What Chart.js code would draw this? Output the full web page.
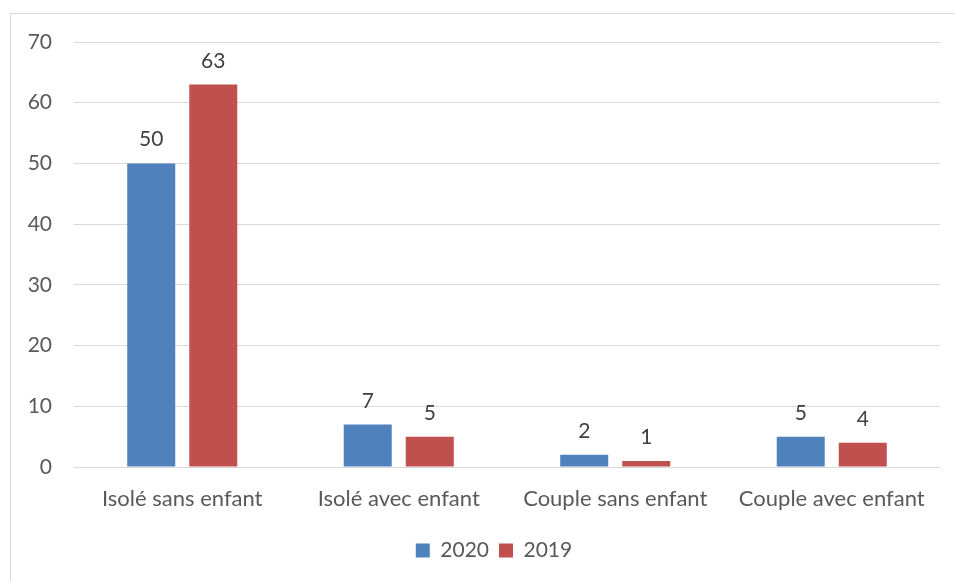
<!DOCTYPE html>
<html><head><meta charset="utf-8">
<script src="https://cdn.jsdelivr.net/npm/chart.js@4"></script>
<style>
html,body{margin:0;padding:0;background:#fff;overflow:hidden;width:955px;height:581px;}
#frame{position:absolute;left:10px;top:13px;width:1000px;height:700px;border:1px solid #d9d9d9;box-sizing:border-box;}
#wrap{position:absolute;left:0;top:0;width:955px;height:581px;}
</style></head>
<body>
<div id="frame"></div>
<div id="wrap"><canvas id="c" width="955" height="581"></canvas></div>
<script>
const categories = ["Isolé sans enfant", "Isolé avec enfant", "Couple sans enfant", "Couple avec enfant"];
const values2020 = [50, 7, 2, 5];
const values2019 = [63, 5, 1, 4];
const seriesNames = ["2020", "2019"];
const yTicks = [0, 10, 20, 30, 40, 50, 60, 70];

const FONT = "Lato, 'Open Sans', sans-serif";

const labelPlugin = {
  id: 'barLabels',
  afterLayout(chart) {
    const lg = chart.legend;
    if (lg) { lg.left += 24; lg.right += 24; }
  },
  afterDatasetsDraw(chart) {
    const ctx = chart.ctx;
    ctx.save();
    ctx.font = "21px " + FONT;
    ctx.fillStyle = "#404040";
    ctx.textAlign = "center";
    ctx.textBaseline = "alphabetic";
    chart.data.datasets.forEach((ds, i) => {
      chart.getDatasetMeta(i).data.forEach((bar, j) => {
        ctx.fillText(String(ds.data[j]), bar.x, bar.y - 17);
      });
    });
    ctx.restore();
  }
};

new Chart(document.getElementById('c'), {
  type: 'bar',
  data: {
    labels: categories,
    datasets: [
      { label: seriesNames[0], data: values2020, backgroundColor: '#4F81BD', categoryPercentage: 0.573, barPercentage: 0.774 },
      { label: seriesNames[1], data: values2019, backgroundColor: '#C0504D', categoryPercentage: 0.573, barPercentage: 0.774 }
    ]
  },
  options: {
    responsive: false,
    animation: false,
    devicePixelRatio: 1,
    layout: { padding: { left: 0, right: 15, top: 42, bottom: 10 } },
    plugins: {
      legend: {
        position: 'bottom',
        labels: { font: { family: FONT, size: 21 }, color: '#595959', boxWidth: 14, boxHeight: 14, padding: 10 }
      },
      tooltip: { enabled: false }
    },
    scales: {
      x: {
        grid: { display: false, drawTicks: false },
        border: { display: true, color: '#d9d9d9' },
        ticks: { font: { family: FONT, size: 22 }, color: '#595959', padding: 19, maxRotation: 0 },
        afterFit(s) { s.height = 63; }
      },
      y: {
        min: 0, max: 70,
        afterBuildTicks(s) { s.ticks = yTicks.map(v => ({ value: v })); },
        grid: { color: '#d9d9d9', drawTicks: false },
        border: { display: false },
        ticks: { font: { family: FONT, size: 21 }, color: '#595959', padding: 22 },
        afterFit(s) { s.width = 74; }
      }
    }
  },
  plugins: [labelPlugin]
});
</script>
</body></html>
